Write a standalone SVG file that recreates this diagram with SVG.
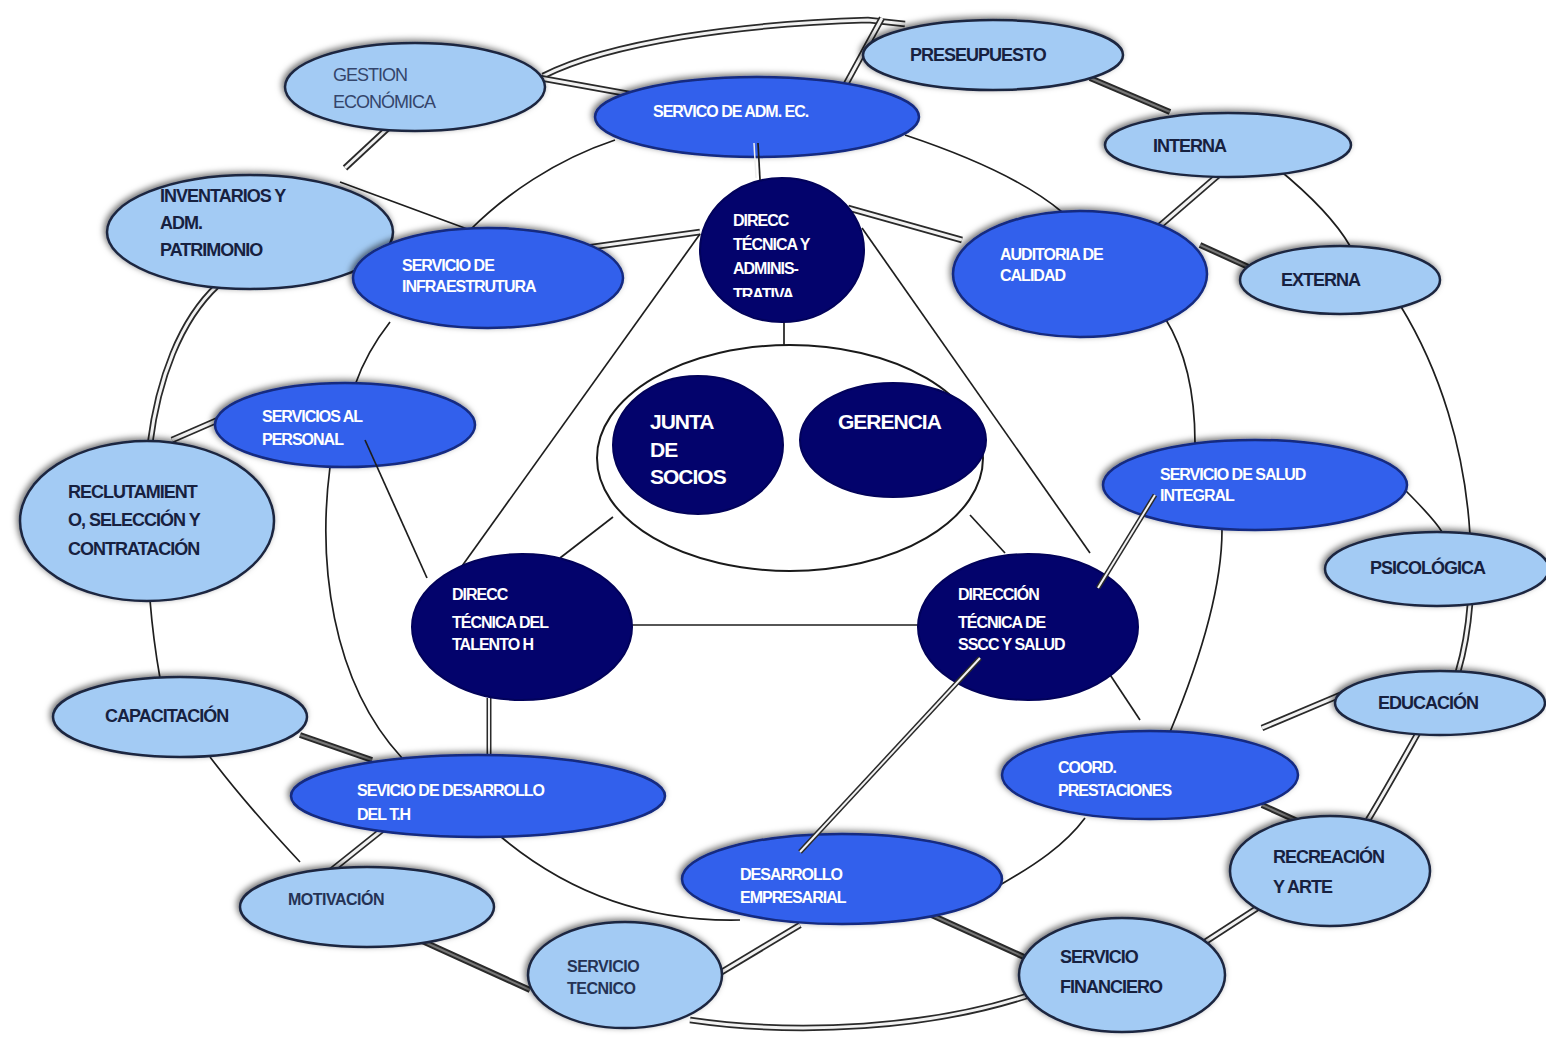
<svg xmlns="http://www.w3.org/2000/svg" width="1546" height="1038" viewBox="0 0 1546 1038">
<style>
.lb{fill:#a3cbf4;stroke:#1c2640;stroke-width:2.5;filter:url(#sh)}
.mb{fill:#3161ec;stroke:#132a80;stroke-width:2.5;filter:url(#sh)}
.nv{fill:#03036c;stroke:#02025a;stroke-width:2}
.wh{fill:#ffffff;stroke:#1a1a1a;stroke-width:2}
.ln{fill:none;stroke:#1e1e1e;stroke-width:1.7}
.lnw{fill:none;stroke:#eeeeee;stroke-width:1.5}
.dbo{fill:none;stroke:#2a2a2a;stroke-width:6.5;stroke-linecap:butt}
.dbi{fill:none;stroke:#f2f2f2;stroke-width:3;stroke-linecap:butt}
.dko{fill:none;stroke:#2a2a2a;stroke-width:6}
.dki{fill:none;stroke:#777777;stroke-width:2}
text{font-family:"Liberation Sans",Arial,sans-serif;font-weight:bold;letter-spacing:-1px}
.td{fill:#17213f;font-size:18px}
.tg{fill:#34456b;font-size:18px;font-weight:normal}
.ts{fill:#253355;font-size:16px;letter-spacing:-0.5px}
.tw{fill:#ffffff;font-size:16px}
.tn{fill:#ffffff;font-size:21px}
</style>
<defs>
<filter id="sh" x="-20%" y="-30%" width="140%" height="160%">
<feDropShadow dx="-2" dy="-2" stdDeviation="3" flood-color="#000" flood-opacity="0.55"/>
</filter>
<clipPath id="cta"><rect x="700" y="178" width="164" height="119"/></clipPath>
</defs>
<rect width="1546" height="1038" fill="#ffffff"/>

<g id="connectors">
<path class="dbo" d="M543,76 C610,42 740,24 868,20 L905,24"/><path class="dbi" d="M543,76 C610,42 740,24 868,20 L905,24"/>
<path class="dbo" d="M882,18 L846,84"/><path class="dbi" d="M882,18 L846,84"/>
<path class="dbo" d="M540,78 L640,96"/><path class="dbi" d="M540,78 L640,96"/>
<path class="dko" d="M1090,78 L1170,112"/><path class="dki" d="M1090,78 L1170,112"/>
<path class="dbo" d="M1222,172 L1155,230"/><path class="dbi" d="M1222,172 L1155,230"/>
<path class="dko" d="M1200,245 L1255,270"/><path class="dki" d="M1200,245 L1255,270"/>
<path class="dbo" d="M1470,604 C1468,630 1463,655 1458,672"/><path class="dbi" d="M1470,604 C1468,630 1463,655 1458,672"/>
<path class="dbo" d="M1345,693 L1262,728"/><path class="dbi" d="M1345,693 L1262,728"/>
<path class="dbo" d="M1418,733 C1400,765 1385,792 1368,820"/><path class="dbi" d="M1418,733 C1400,765 1385,792 1368,820"/>
<path class="dko" d="M1262,805 L1335,838"/><path class="dki" d="M1262,805 L1335,838"/>
<path class="dbo" d="M1262,905 L1205,942"/><path class="dbi" d="M1262,905 L1205,942"/>
<path class="dko" d="M925,912 L1035,962"/><path class="dki" d="M925,912 L1035,962"/>
<path class="dbo" d="M1030,995 C930,1028 800,1036 690,1020"/><path class="dbi" d="M1030,995 C930,1028 800,1036 690,1020"/>
<path class="dbo" d="M700,985 L800,925"/><path class="dbi" d="M700,985 L800,925"/>
<path class="dko" d="M530,990 L420,940"/><path class="dki" d="M530,990 L420,940"/>
<path class="dbo" d="M322,878 L392,822"/><path class="dbi" d="M322,878 L392,822"/>
<path class="dko" d="M300,735 L372,760"/><path class="dki" d="M300,735 L372,760"/>
<path class="dbo" d="M172,440 L218,420"/><path class="dbi" d="M172,440 L218,420"/>
<path class="dbo" d="M150,444 C158,380 180,320 218,285"/><path class="dbi" d="M150,444 C158,380 180,320 218,285"/>
<path class="dbo" d="M345,168 L388,128"/><path class="dbi" d="M345,168 L388,128"/>
<path class="dbo" d="M700,232 L585,248"/><path class="dbi" d="M700,232 L585,248"/>
<path class="dbo" d="M848,208 L962,240"/><path class="dbi" d="M848,208 L962,240"/>
<path class="ln" d="M1277,168 C1310,195 1335,220 1350,246"/>
<path class="ln" d="M1400,305 C1440,370 1465,450 1470,535"/>
<path class="ln" d="M300,862 C270,830 235,790 210,757"/>
<path class="ln" d="M160,678 C155,650 152,625 150,600"/>
<path class="ln" d="M340,182 L470,230"/>
<path class="ln" d="M1405,490 C1420,505 1435,520 1442,532"/>
<path class="ln" d="M615,140 C555,160 505,195 470,230"/>
<path class="ln" d="M905,135 C980,160 1030,185 1062,212"/>
<path class="ln" d="M390,322 C372,345 362,365 355,385"/>
<path class="ln" d="M330,467 C318,560 330,680 402,758"/>
<path class="ln" d="M500,836 C570,895 650,922 740,920"/>
<path class="ln" d="M1000,885 C1035,865 1065,845 1085,818"/>
<path class="ln" d="M1170,732 C1200,660 1222,590 1222,530"/>
<path class="ln" d="M1195,443 C1195,390 1185,350 1165,318"/>
<path class="ln" d="M784,320 L784,347"/>
<path class="ln" d="M700,234 L452,580"/>
<path class="ln" d="M862,228 L1090,553"/>
<path class="ln" d="M783,438 L802,438"/>
<path class="ln" d="M613,517 L560,558"/>
<path class="ln" d="M970,515 L1005,553"/>
<path class="ln" d="M630,625 L920,625"/>
<path class="ln" d="M1095,652 L1140,720"/>
<path class="dbo" d="M489,698 L489,758" style="stroke-width:5"/><path class="dbi" d="M489,698 L489,758" style="stroke-width:2"/>
</g>

<g id="n-gestion"><ellipse class="lb" cx="415" cy="87" rx="130" ry="44"/><text class="tg" x="333" y="81">GESTION</text><text class="tg" x="333" y="108">ECONÓMICA</text></g>
<g id="n-presupuesto"><ellipse class="lb" cx="993" cy="55" rx="130" ry="35"/><text class="td" x="910" y="61">PRESEUPUESTO</text></g>
<g id="n-interna"><ellipse class="lb" cx="1228" cy="145" rx="123" ry="32"/><text class="td" x="1153" y="152">INTERNA</text></g>
<g id="n-externa"><ellipse class="lb" cx="1340" cy="280" rx="100" ry="34"/><text class="td" x="1281" y="286">EXTERNA</text></g>
<g id="n-psicologica"><ellipse class="lb" cx="1437" cy="569" rx="112" ry="37"/><text class="td" x="1370" y="574">PSICOLÓGICA</text></g>
<g id="n-educacion"><ellipse class="lb" cx="1440" cy="703" rx="105" ry="32"/><text class="td" x="1378" y="709">EDUCACIÓN</text></g>
<g id="n-recreacion"><ellipse class="lb" cx="1330" cy="871" rx="100" ry="55"/><text class="td" x="1273" y="863">RECREACIÓN</text><text class="td" x="1273" y="893">Y ARTE</text></g>
<g id="n-financiero"><ellipse class="lb" cx="1122" cy="975" rx="103" ry="57"/><text class="td" x="1060" y="963">SERVICIO</text><text class="td" x="1060" y="993">FINANCIERO</text></g>
<g id="n-tecnico"><ellipse class="lb" cx="625" cy="975" rx="97" ry="53"/><text class="ts" x="567" y="972">SERVICIO</text><text class="ts" x="567" y="994">TECNICO</text></g>
<g id="n-motivacion"><ellipse class="lb" cx="367" cy="907" rx="127" ry="40"/><text class="ts" x="288" y="905">MOTIVACIÓN</text></g>
<g id="n-capacitacion"><ellipse class="lb" cx="180" cy="717" rx="127" ry="40"/><text class="td" x="105" y="722">CAPACITACIÓN</text></g>
<g id="n-reclutamiento"><ellipse class="lb" cx="147" cy="521" rx="127" ry="80"/><text class="td" x="68" y="498">RECLUTAMIENT</text><text class="td" x="68" y="526">O, SELECCIÓN Y</text><text class="td" x="68" y="555">CONTRATACIÓN</text></g>
<g id="n-inventarios"><ellipse class="lb" cx="250" cy="232" rx="143" ry="57"/><text class="td" x="160" y="202">INVENTARIOS Y</text><text class="td" x="160" y="229">ADM.</text><text class="td" x="160" y="256">PATRIMONIO</text></g>

<g id="n-admec"><ellipse class="mb" cx="757" cy="117" rx="162" ry="40"/><text class="tw" x="653" y="117">SERVICO DE ADM. EC.</text></g>
<g id="n-infra"><ellipse class="mb" cx="488" cy="278" rx="135" ry="50"/><text class="tw" x="402" y="271">SERVICIO DE</text><text class="tw" x="402" y="292">INFRAESTRUTURA</text></g>
<g id="n-auditoria"><ellipse class="mb" cx="1080" cy="274" rx="127" ry="63"/><text class="tw" x="1000" y="260">AUDITORIA DE</text><text class="tw" x="1000" y="281">CALIDAD</text></g>
<g id="n-personal"><ellipse class="mb" cx="345" cy="425" rx="130" ry="42"/><text class="tw" x="262" y="422">SERVICIOS AL</text><text class="tw" x="262" y="445">PERSONAL</text></g>
<g id="n-salud"><ellipse class="mb" cx="1255" cy="485" rx="152" ry="45"/><text class="tw" x="1160" y="480">SERVICIO DE SALUD</text><text class="tw" x="1160" y="501">INTEGRAL</text></g>
<g id="n-coord"><ellipse class="mb" cx="1150" cy="775" rx="148" ry="44"/><text class="tw" x="1058" y="773">COORD.</text><text class="tw" x="1058" y="796">PRESTACIONES</text></g>
<g id="n-empresarial"><ellipse class="mb" cx="842" cy="879" rx="160" ry="45"/><text class="tw" x="740" y="880">DESARROLLO</text><text class="tw" x="740" y="903">EMPRESARIAL</text></g>
<g id="n-desarrollo-th"><ellipse class="mb" cx="478" cy="796" rx="187" ry="41"/><text class="tw" x="357" y="796">SEVICIO DE DESARROLLO</text><text class="tw" x="357" y="820">DEL T.H</text></g>

<g id="n-direcc-ta"><ellipse class="nv" cx="782" cy="250" rx="82" ry="72"/><g clip-path="url(#cta)"><text class="tw" x="733" y="226">DIRECC</text><text class="tw" x="733" y="250">TÉCNICA Y</text><text class="tw" x="733" y="274">ADMINIS-</text><text class="tw" x="733" y="300">TRATIVA</text></g></g>
<g id="n-core"><ellipse class="wh" cx="790" cy="458" rx="193" ry="113"/></g>
<g id="n-junta"><ellipse class="nv" cx="698" cy="445" rx="85" ry="69"/><text class="tn" x="650" y="429">JUNTA</text><text class="tn" x="650" y="457">DE</text><text class="tn" x="650" y="484">SOCIOS</text></g>
<g id="n-gerencia"><ellipse class="nv" cx="893" cy="440" rx="93" ry="57"/><text class="tn" x="838" y="429">GERENCIA</text></g>
<g id="n-talento"><ellipse class="nv" cx="522" cy="627" rx="110" ry="73"/><text class="tw" x="452" y="600">DIRECC</text><text class="tw" x="452" y="628">TÉCNICA DEL</text><text class="tw" x="452" y="650">TALENTO H</text></g>
<g id="n-sscc"><ellipse class="nv" cx="1028" cy="627" rx="110" ry="73"/><text class="tw" x="958" y="600">DIRECCIÓN</text><text class="tw" x="958" y="628">TÉCNICA DE</text><text class="tw" x="958" y="650">SSCC  Y SALUD</text></g>

<g id="connectors-over">
<path class="ln" d="M365,440 L427,578"/>
<path class="ln" d="M758,143 L760,180"/><path class="lnw" d="M754,143 L756,178"/>
<path class="dbo" d="M1098,588 L1155,495" style="stroke-width:5"/><path class="dbi" d="M1098,588 L1155,495" style="stroke-width:2"/>
<path class="dbo" d="M980,658 L800,852" style="stroke-width:5"/><path class="dbi" d="M980,658 L800,852" style="stroke-width:2"/>
</g>
</svg>
